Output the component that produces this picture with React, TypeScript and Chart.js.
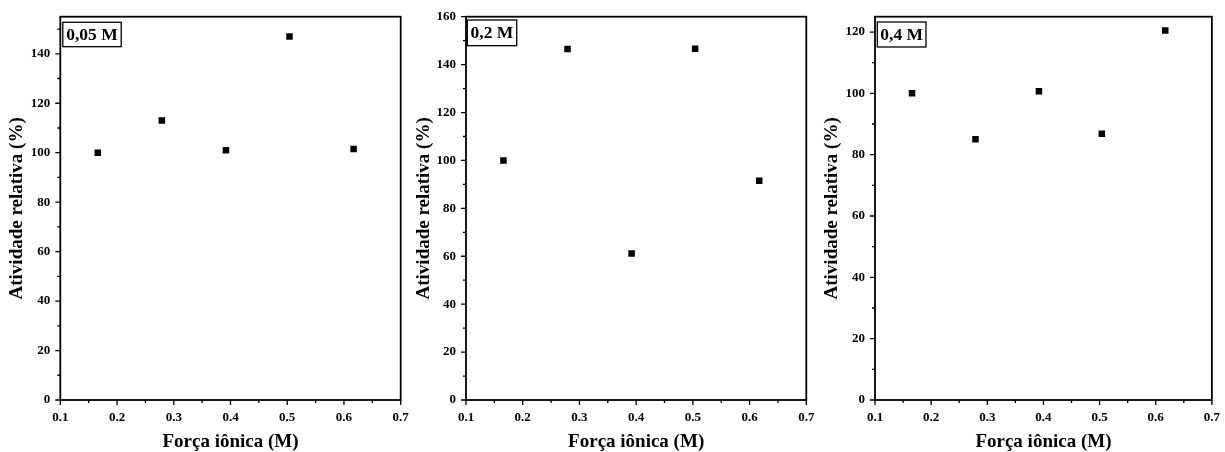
import React, { useEffect, useRef } from "react";
import { Chart, registerables } from "chart.js";

Chart.register(...registerables);

// ---- data ----
const ionicStrength = [0.166, 0.279, 0.392, 0.504, 0.617];
const activity005 = [100, 113, 101, 147, 101.5];
const activity02 = [100, 146.5, 61.2, 146.6, 91.5];
const activity04 = [100, 85, 100.7, 86.8, 120.5];
const panelLabels = ["0,05 M", "0,2 M", "0,4 M"];
const xTickValues = [0.1, 0.2, 0.3, 0.4, 0.5, 0.6, 0.7];
const yTicks005 = [0, 20, 40, 60, 80, 100, 120, 140];
const yTicks02 = [0, 20, 40, 60, 80, 100, 120, 140, 160];
const yTicks04 = [0, 20, 40, 60, 80, 100, 120];
const yMax005 = 155;
const yMax02 = 160;
const yMax04 = 125;
const xTitle = "Força iônica (M)";
const yTitle = "Atividade relativa (%)";

const FONT = "'Liberation Serif', 'Times New Roman', serif";
const W = 1225;
const H = 452;

type PanelLayout = {
  boxLeft: number;
  axisW: number;
  chartRight: number;
  chartTop: number;
  axisH: number;
  lbl: { dx: number; dy: number; w: number; h: number };
};

const layouts: PanelLayout[] = [
  { boxLeft: 7.5, axisW: 52.8, chartRight: 400.7, chartTop: 16.7, axisH: 52, lbl: { dx: 2.5, dy: 5.6, w: 58.4, h: 24.4 } },
  { boxLeft: 414.4, axisW: 51.6, chartRight: 806.3, chartTop: 16.7, axisH: 52, lbl: { dx: 1.3, dy: 3.3, w: 49.4, h: 25.7 } },
  { boxLeft: 822.2, axisW: 52.8, chartRight: 1215, chartTop: 16.7, axisH: 52, lbl: { dx: 2.3, dy: 5.3, w: 48.7, h: 25 } },
];

const framePlugin = {
  id: "frameTicks",
  afterDraw(chart: any) {
    const opts = chart.options.plugins.frameTicks;
    const { ctx, chartArea } = chart;
    const { left, top, right, bottom } = chartArea;
    const x = chart.scales.x;
    const y = chart.scales.y;
    ctx.save();
    ctx.strokeStyle = "#000";
    ctx.lineWidth = 1.8;
    ctx.strokeRect(left, top, right - left, bottom - top);
    ctx.lineWidth = 1.3;
    ctx.beginPath();
    // x ticks (major every 0.1, minor every 0.05)
    const nX = Math.round((x.max - x.min) / 0.05);
    for (let i = 0; i <= nX; i++) {
      const v = x.min + i * 0.05;
      const px = x.getPixelForValue(v);
      const len = i % 2 === 0 ? 5 : 3;
      ctx.moveTo(px, bottom);
      ctx.lineTo(px, bottom + len);
    }
    // y ticks (major every 20, minor every 10)
    for (let v = 0; v <= y.max + 1e-9; v += 10) {
      const py = y.getPixelForValue(v);
      const len = v % 20 === 0 ? 5 : 3;
      ctx.moveTo(left, py);
      ctx.lineTo(left - len, py);
    }
    ctx.stroke();
    // panel label box
    const l = opts.lbl;
    const bx = left + l.dx;
    const by = top + l.dy;
    ctx.fillStyle = "#fff";
    ctx.fillRect(bx, by, l.w, l.h);
    ctx.lineWidth = 1.3;
    ctx.strokeStyle = "#000";
    ctx.strokeRect(bx, by, l.w, l.h);
    ctx.fillStyle = "#000";
    ctx.font = `bold 17.5px ${FONT}`;
    ctx.textAlign = "center";
    ctx.textBaseline = "middle";
    ctx.fillText(opts.text, bx + l.w / 2, by + l.h / 2 + 1);
    ctx.restore();
  },
};

function Panel({ values, yTicks, yMax, label, layout }: { values: number[]; yTicks: number[]; yMax: number; label: string; layout: PanelLayout }) {
  const ref = useRef<HTMLCanvasElement | null>(null);
  useEffect(() => {
    if (!ref.current) return;
    const chart = new Chart(ref.current, {
      type: "scatter",
      data: {
        datasets: [
          {
            data: ionicStrength.map((xv, i) => ({ x: xv, y: values[i] })),
            pointStyle: "rect",
            pointRadius: 4.6,
            pointBackgroundColor: "#000",
            pointBorderColor: "#000",
            pointBorderWidth: 0,
            showLine: false,
          },
        ],
      },
      options: {
        animation: false,
        responsive: false,
        devicePixelRatio: 1,
        layout: {
          padding: {
            left: layout.boxLeft,
            right: W - layout.chartRight,
            top: layout.chartTop,
            bottom: 0,
          },
        },
        plugins: {
          legend: { display: false },
          tooltip: { enabled: false },
          frameTicks: { text: label, lbl: layout.lbl },
        } as any,
        scales: {
          x: {
            type: "linear",
            min: 0.1,
            max: 0.7,
            grid: { display: false, drawTicks: true, tickLength: 5 },
            border: { display: false },
            afterBuildTicks: (s: any) => {
              s.ticks = xTickValues.map((v) => ({ value: v }));
            },
            afterFit: (s: any) => {
              s.height = layout.axisH;
            },
            ticks: {
              padding: 5,
              color: "#000",
              maxRotation: 0,
              font: { family: FONT, size: 13, weight: "bold" },
              callback: (v: any) => Number(v).toFixed(1),
            },
            title: {
              display: true,
              text: xTitle,
              color: "#000",
              padding: 0,
              font: { family: FONT, size: 19, weight: "bold", lineHeight: 1 },
            },
          },
          y: {
            type: "linear",
            min: 0,
            max: yMax,
            grid: { display: false, drawTicks: true, tickLength: 5 },
            border: { display: false },
            afterBuildTicks: (s: any) => {
              s.ticks = yTicks.map((v) => ({ value: v }));
            },
            afterFit: (s: any) => {
              s.width = layout.axisW;
            },
            ticks: {
              padding: 5,
              color: "#000",
              font: { family: FONT, size: 13, weight: "bold" },
              callback: (v: any) => String(v),
            },
            title: {
              display: true,
              text: yTitle,
              color: "#000",
              padding: 0,
              font: { family: FONT, size: 19, weight: "bold", lineHeight: 1 },
            },
          },
        },
      },
      plugins: [framePlugin],
    } as any);
    return () => chart.destroy();
  }, []);
  return (
    <canvas
      ref={ref}
      width={W}
      height={H}
      style={{ position: "absolute", left: 0, top: 0, width: W, height: H, pointerEvents: "none" }}
    />
  );
}

export default function App() {
  return (
    <div style={{ position: "fixed", left: 0, top: 0, width: W, height: H, background: "#fff", overflow: "hidden" }}>
      <Panel values={activity005} yTicks={yTicks005} yMax={yMax005} label={panelLabels[0]} layout={layouts[0]} />
      <Panel values={activity02} yTicks={yTicks02} yMax={yMax02} label={panelLabels[1]} layout={layouts[1]} />
      <Panel values={activity04} yTicks={yTicks04} yMax={yMax04} label={panelLabels[2]} layout={layouts[2]} />
    </div>
  );
}
